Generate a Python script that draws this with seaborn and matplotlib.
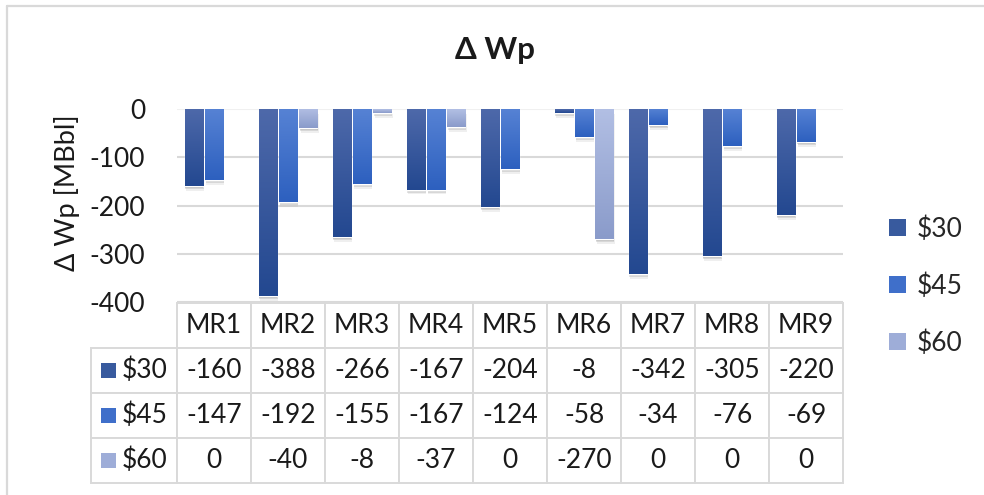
import numpy as np
import pandas as pd
import matplotlib
matplotlib.use("Agg")
import matplotlib.pyplot as plt
import seaborn as sns
from matplotlib.table import Table
from matplotlib.patches import Rectangle, Patch
from matplotlib.lines import Line2D
from matplotlib.colors import LinearSegmentedColormap, to_rgb
import matplotlib.patheffects as pe

# ---------------- data ----------------
categories = ["MR1", "MR2", "MR3", "MR4", "MR5", "MR6", "MR7", "MR8", "MR9"]
series = ["$30", "$45", "$60"]
v30 = [-160, -388, -266, -167, -204, -8, -342, -305, -220]
v45 = [-147, -192, -155, -167, -124, -58, -34, -76, -69]
v60 = [0, -40, -8, -37, 0, -270, 0, 0, 0]
yticks = [0, -100, -200, -300, -400]
title = "Δ Wp"
ylabel = "Δ Wp [MBbl]"

# ---------------- style ----------------
top_colors = ["#4e69aa", "#5682d4", "#b2bfe4"]
bottom_colors = ["#234890", "#2d60bf", "#8a9bca"]
mid_colors = ["#385a9e", "#3f6fca", "#9eadd8"]

sns.set_theme(style="white")
plt.rcParams["font.family"] = ["Lato", "DejaVu Sans"]
plt.rcParams["text.parse_math"] = False
FS = 19
TXT = "#1a1a1a"

values = [v30, v45, v60]
df = pd.DataFrame({
    "cat": [c for s in series for c in categories],
    "series": [s for s in series for _ in categories],
    "value": [v for vals in values for v in vals],
})

W, H = 984, 495
fig = plt.figure(figsize=(W / 100, H / 100), dpi=100)
ax_left, ax_right, ax_top, ax_bot = 177, 843, 109, 302
axw = ax_right - ax_left
axh = ax_bot - ax_top
ax = fig.add_axes([ax_left / W, 1 - ax_bot / H, axw / W, axh / H])

sns.barplot(data=df, x="cat", y="value", hue="series", hue_order=series,
            palette=mid_colors, width=0.825, gap=0.11, saturation=1,
            errorbar=None, legend=False, ax=ax, zorder=3)

ax.set_yticks(yticks)
ax.set_yticklabels([str(t) for t in yticks])
ax.yaxis.grid(True, color="#d9d9d9", lw=1.5, zorder=0)
ax.set_axisbelow(True)
gl = ax.yaxis.get_gridlines()
for t, line in zip(yticks, gl):
    if t == 0:
        line.set_color("#f0f0f0")
for s in ax.spines.values():
    s.set_visible(False)
ax.tick_params(axis="x", length=0, labelbottom=False)
ax.tick_params(axis="y", length=0, pad=23, labelsize=FS, labelcolor=TXT)
ax.set_xlabel("")
ax.set_ylabel(ylabel, fontsize=FS + 0.5, color=TXT)
ax.yaxis.set_label_coords((80 - ax_left) / axw, (ax_bot - 193) / axh)

# gradient fill + soft shadow on bars
cmaps = [LinearSegmentedColormap.from_list(f"g{i}", [bottom_colors[i], top_colors[i]]) for i in range(3)]
grad = np.linspace(0, 1, 256).reshape(-1, 1)
bars = [p for p in ax.patches if isinstance(p, Rectangle)]
for p in bars:
    fc = p.get_facecolor()[:3]
    idx = None
    for i, c in enumerate(mid_colors):
        if np.allclose(fc, to_rgb(c), atol=1e-3):
            idx = i
    if idx is None:
        continue
    h = p.get_height()
    if h == 0:
        p.set_visible(False)
        continue
    p.set_path_effects([
        pe.SimplePatchShadow(offset=(1.0, -3.5), shadow_rgbFace="#999999", alpha=0.15),
        pe.SimplePatchShadow(offset=(0.6, -2.2), shadow_rgbFace="#777777", alpha=0.2),
        pe.SimplePatchShadow(offset=(0.3, -1.0), shadow_rgbFace="#555555", alpha=0.2),
        pe.Normal()])
    x0, w, y0 = p.get_x(), p.get_width(), p.get_y()
    ylo, yhi = min(y0, y0 + h), max(y0, y0 + h)
    im = ax.imshow(grad, cmap=cmaps[idx], origin="lower", extent=[x0, x0 + w, ylo, yhi],
                   aspect="auto", interpolation="bilinear", zorder=p.get_zorder() + 0.1)
    im.set_clip_path(p)
ax.set_ylim(-400, 0)
ax.set_xlim(-0.5, len(categories) - 0.5)

# ---------------- data table ----------------
tbl_left, tbl_top, tbl_bot = 91, 303, 483
col_w = 1.0 / len(categories)
lab_w = (ax_left - tbl_left) / axw
row_h = ((tbl_bot - tbl_top) / 4) / axh
table = Table(ax, bbox=[0, (ax_bot - tbl_bot) / axh, 1, (tbl_bot - tbl_top) / axh])
edge = "#d9d9d9"
for j, c in enumerate(categories):
    table.add_cell(0, j, width=col_w, height=row_h, text=c, loc="center")
for i, (s, vals) in enumerate(zip(series, values), start=1):
    table.add_cell(i, -1, width=lab_w, height=row_h, text="", loc="center")
    for j, v in enumerate(vals):
        table.add_cell(i, j, width=col_w, height=row_h, text=str(v), loc="center")
for (r, c), cell in table.get_celld().items():
    cell.set_edgecolor(edge)
    cell.set_linewidth(1.4)
    cell.set_facecolor("white")
    cell.get_text().set_color(TXT)
table.auto_set_font_size(False)
table.set_fontsize(FS)
ax.add_table(table)

# legend keys inside the row-label cells
row_top = [tbl_top + (k + 1) * (tbl_bot - tbl_top) / 4 for k in range(3)]
rh_px = (tbl_bot - tbl_top) / 4
sq = 15
for i, s in enumerate(series):
    yc = row_top[i] + rh_px / 2
    ax.add_patch(Rectangle(((101 - ax_left) / axw, (ax_bot - yc - sq / 2) / axh), sq / axw, sq / axh,
                           transform=ax.transAxes, facecolor=mid_colors[i], edgecolor="none",
                           clip_on=False, zorder=6))
    ax.text((122 - ax_left) / axw, (ax_bot - yc) / axh, s, transform=ax.transAxes,
            ha="left", va="center", fontsize=FS, color=TXT, clip_on=False, zorder=6)

# ---------------- legend ----------------
handles = [Patch(facecolor=c, edgecolor="none") for c in mid_colors]
fig.legend(handles=handles, labels=series, loc="center left",
           bbox_to_anchor=(889 / W, 1 - 286 / H), frameon=False, fontsize=FS,
           handlelength=0.65, handleheight=0.65, handletextpad=0.4,
           labelspacing=1.2, borderpad=0, borderaxespad=0)

# ---------------- title & chart border ----------------
fig.text(495 / W, 1 - 50 / H, title, ha="center", va="center", fontsize=22.5,
         fontweight="bold", color=TXT)
fig.add_artist(Line2D([7 / W, 7 / W], [0, 1 - 6 / H], transform=fig.transFigure, color="#d9d9d9", lw=1.6))
fig.add_artist(Line2D([7 / W, 1], [1 - 6 / H, 1 - 6 / H], transform=fig.transFigure, color="#d9d9d9", lw=1.6))

fig.savefig("out.png", dpi=100)
